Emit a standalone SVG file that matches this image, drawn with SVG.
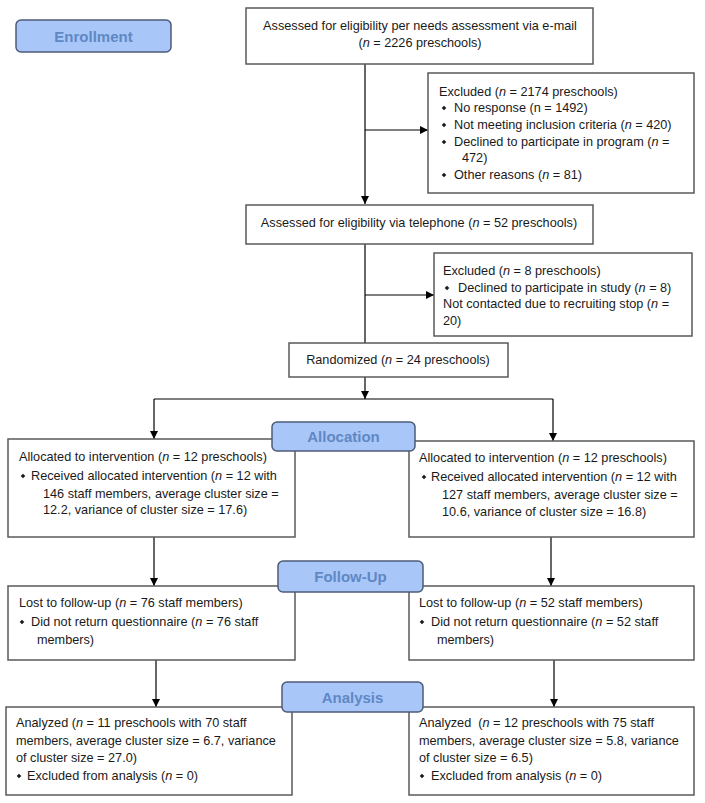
<svg xmlns="http://www.w3.org/2000/svg" width="705" height="803" viewBox="0 0 705 803">
<style>
.box{fill:#fff;stroke:#5a5a5a;stroke-width:1.5}
.stage{fill:#a9c6f8;stroke:#4d5b78;stroke-width:1.5}
.stxt{font-family:"Liberation Sans",Arial,sans-serif;font-size:15px;font-weight:bold;fill:#5f88c4;text-anchor:middle}
.t{font-family:"Liberation Sans",Arial,sans-serif;font-size:12.7px;fill:#1a1a1a}
.c{text-anchor:middle}
.i{font-style:italic}
.ln{fill:none;stroke:#000;stroke-width:1.2}
.ar{marker-end:url(#ah)}
.b{fill:#1a1a1a}
</style>
<defs>
<marker id="ah" markerUnits="userSpaceOnUse" markerWidth="8" markerHeight="8" refX="8" refY="4" orient="auto">
<path d="M0,0 L8,4 L0,8 z" fill="#000"/>
</marker>
<path id="bul" d="M0,-2.3 L2.3,0 L0,2.3 L-2.3,0 z"/>
</defs>
<g id="connectors">
<path class="ln ar" d="M365,64 V204"/>
<path class="ln ar" d="M365,130 H428"/>
<path class="ln" d="M365,244 V343"/>
<path class="ln ar" d="M365,295 H434"/>
<path class="ln ar" d="M365,377 V399"/>
<path class="ln" d="M154,399 H553"/>
<path class="ln ar" d="M154,399 V439"/>
<path class="ln ar" d="M553,399 V441"/>
<path class="ln ar" d="M154,537 V586"/>
<path class="ln ar" d="M551,537 V586"/>
<path class="ln ar" d="M156,660 V707"/>
<path class="ln ar" d="M554,660 V707"/>
</g>
<g id="enrollment">
<rect class="stage" x="16" y="20" width="155" height="32" rx="5"/>
<text class="stxt" x="93.5" y="41.5">Enrollment</text>
</g>
<g id="assessed-email">
<rect class="box" x="246" y="8" width="347" height="56"/>
<text class="t c" x="420" y="30">Assessed for eligibility per needs assessment via e-mail</text>
<text class="t c" x="420" y="47">(<tspan class="i">n</tspan> = 2226 preschools)</text>
</g>
<g id="excluded-1">
<rect class="box" x="428" y="73" width="266" height="120"/>
<text class="t" x="439" y="96">Excluded (<tspan class="i">n</tspan> = 2174 preschools)</text>
<use href="#bul" class="b" x="444" y="108"/>
<text class="t" x="454" y="112">No response (n = 1492)</text>
<use href="#bul" class="b" x="444" y="125"/>
<text class="t" x="454" y="129">Not meeting inclusion criteria (<tspan class="i">n</tspan> = 420)</text>
<use href="#bul" class="b" x="444" y="142"/>
<text class="t" x="454" y="146">Declined to participate in program (<tspan class="i">n</tspan> =</text>
<text class="t" x="462" y="162">472)</text>
<use href="#bul" class="b" x="444" y="175"/>
<text class="t" x="454" y="179">Other reasons (<tspan class="i">n</tspan> = 81)</text>
</g>
<g id="assessed-phone">
<rect class="box" x="246" y="205" width="347" height="39"/>
<text class="t c" x="419" y="227">Assessed for eligibility via telephone (<tspan class="i">n</tspan> = 52 preschools)</text>
</g>
<g id="excluded-2">
<rect class="box" x="434" y="253" width="258" height="83"/>
<text class="t" x="443" y="275">Excluded (<tspan class="i">n</tspan> = 8 preschools)</text>
<use href="#bul" class="b" x="447" y="288"/>
<text class="t" x="458" y="292">Declined to participate in study (<tspan class="i">n</tspan> = 8)</text>
<text class="t" x="443" y="308">Not contacted due to recruiting stop (<tspan class="i">n</tspan> =</text>
<text class="t" x="443" y="325">20)</text>
</g>
<g id="randomized">
<rect class="box" x="289" y="343" width="219" height="34"/>
<text class="t c" x="398" y="364">Randomized (<tspan class="i">n</tspan> = 24 preschools)</text>
</g>
<g id="alloc-left">
<rect class="box" x="8" y="439" width="287" height="98"/>
<text class="t" x="19" y="461">Allocated to intervention (<tspan class="i">n</tspan> = 12 preschools)</text>
<use href="#bul" class="b" x="23" y="476"/>
<text class="t" x="31" y="480">Received allocated intervention (<tspan class="i">n</tspan> = 12 with</text>
<text class="t" x="43" y="498">146 staff members, average cluster size =</text>
<text class="t" x="43" y="514">12.2, variance of cluster size = 17.6)</text>
</g>
<g id="alloc-right">
<rect class="box" x="409" y="441" width="285" height="96"/>
<text class="t" x="419" y="462">Allocated to intervention (<tspan class="i">n</tspan> = 12 preschools)</text>
<use href="#bul" class="b" x="424" y="477"/>
<text class="t" x="431" y="481">Received allocated intervention (<tspan class="i">n</tspan> = 12 with</text>
<text class="t" x="442" y="499">127 staff members, average cluster size =</text>
<text class="t" x="442" y="516">10.6, variance of cluster size = 16.8)</text>
</g>
<g id="allocation">
<rect class="stage" x="272" y="422" width="143" height="29" rx="5"/>
<text class="stxt" x="343.5" y="442">Allocation</text>
</g>
<g id="followup-left">
<rect class="box" x="8" y="586" width="287" height="74"/>
<text class="t" x="19" y="607">Lost to follow-up (<tspan class="i">n</tspan> = 76 staff members)</text>
<use href="#bul" class="b" x="22" y="622"/>
<text class="t" x="31" y="626">Did not return questionnaire (<tspan class="i">n</tspan> = 76 staff</text>
<text class="t" x="37" y="644">members)</text>
</g>
<g id="followup-right">
<rect class="box" x="409" y="586" width="285" height="74"/>
<text class="t" x="419" y="607">Lost to follow-up (<tspan class="i">n</tspan> = 52 staff members)</text>
<use href="#bul" class="b" x="422" y="622"/>
<text class="t" x="431" y="626">Did not return questionnaire (<tspan class="i">n</tspan> = 52 staff</text>
<text class="t" x="437" y="644">members)</text>
</g>
<g id="followup">
<rect class="stage" x="278" y="561" width="145" height="31" rx="5"/>
<text class="stxt" x="350.5" y="582">Follow-Up</text>
</g>
<g id="analysis-left">
<rect class="box" x="6" y="707" width="286" height="88"/>
<text class="t" x="16" y="727">Analyzed (<tspan class="i">n</tspan> = 11 preschools with 70 staff</text>
<text class="t" x="16" y="745">members, average cluster size = 6.7, variance</text>
<text class="t" x="16" y="762">of cluster size = 27.0)</text>
<use href="#bul" class="b" x="19" y="776"/>
<text class="t" x="27" y="780">Excluded from analysis (<tspan class="i">n</tspan> = 0)</text>
</g>
<g id="analysis-right">
<rect class="box" x="409" y="707" width="285" height="88"/>
<text class="t" x="419" y="727" xml:space="preserve">Analyzed  (<tspan class="i">n</tspan> = 12 preschools with 75 staff</text>
<text class="t" x="419" y="745">members, average cluster size = 5.8, variance</text>
<text class="t" x="419" y="762">of cluster size = 6.5)</text>
<use href="#bul" class="b" x="422" y="776"/>
<text class="t" x="431" y="780">Excluded from analysis (<tspan class="i">n</tspan> = 0)</text>
</g>
<g id="analysis">
<rect class="stage" x="282" y="682" width="141" height="30" rx="5"/>
<text class="stxt" x="352.5" y="702.5">Analysis</text>
</g>
</svg>
